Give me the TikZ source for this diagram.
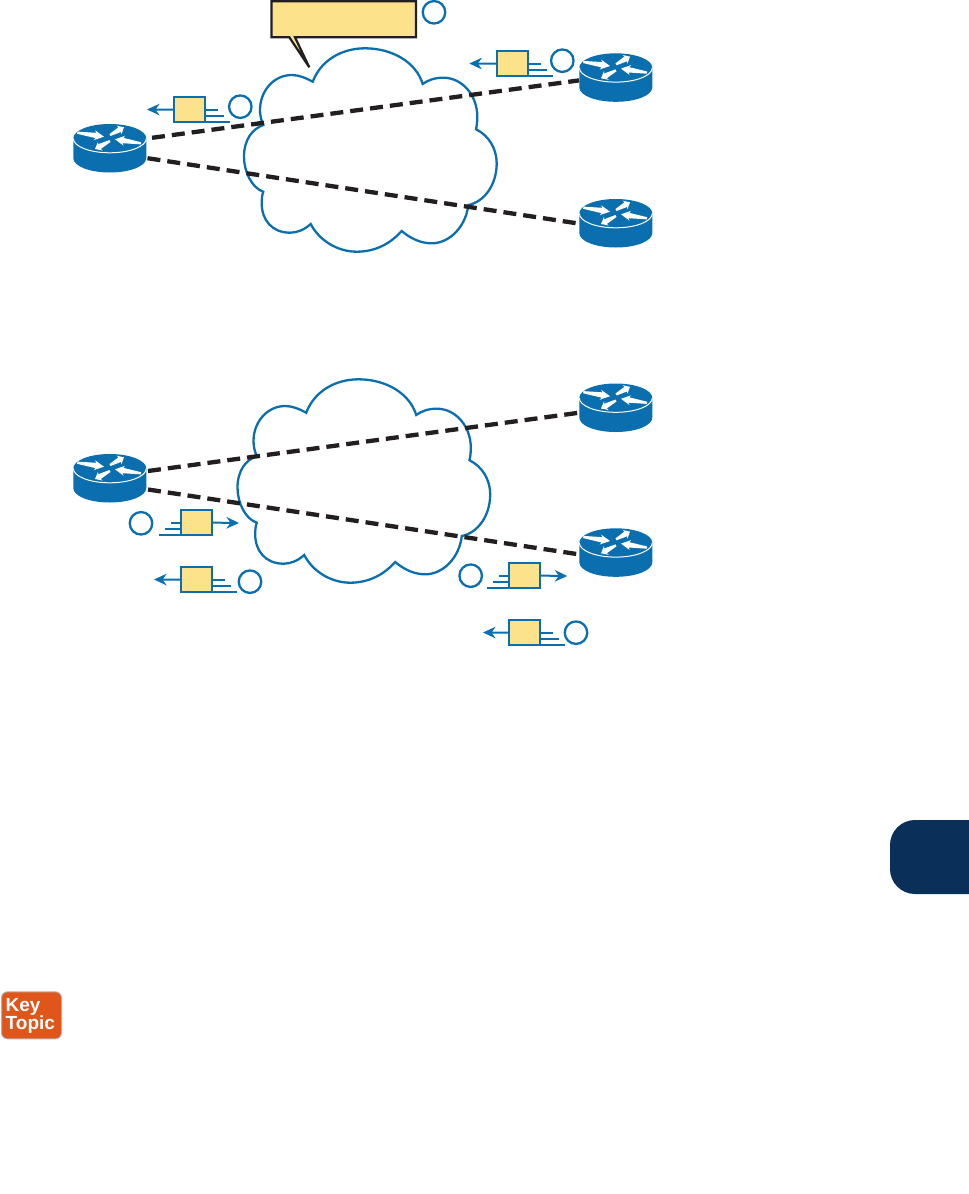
\documentclass[tikz,border=0pt]{standalone}
\usepackage{fontspec}
\setsansfont{Liberation Sans}
\usetikzlibrary{arrows.meta,calc}
\definecolor{netblue}{HTML}{0B6EAE}
\definecolor{padyellow}{HTML}{FDE28C}
\definecolor{inkdark}{HTML}{231F20}
\definecolor{tabnavy}{HTML}{0A2F58}
\definecolor{keyorange}{HTML}{E0551A}
\tikzset{
  x=1pt,y=-1pt,
  cloudline/.style={draw=netblue,line width=2.3pt,line join=miter},
  tunnel/.style={draw=inkdark,line width=4.3pt,dash pattern=on 13pt off 7pt},
  packet/.style={draw=netblue,fill=padyellow,line width=2.3pt,minimum width=31pt,minimum height=25pt,inner sep=0pt,outer sep=0pt},
  badge/.style={circle,draw=netblue,line width=2.3pt,minimum size=22.5pt,inner sep=0pt,outer sep=0pt},
  flow/.style={draw=netblue,line width=2pt,-{Stealth[length=12.5pt,width=11.5pt,inset=4pt]}},
  speed/.style={draw=netblue,line width=2pt},
  anchorpt/.style={inner sep=0pt,outer sep=0pt,minimum size=0pt},
}
% tapered white arrow inside a router
\newcommand\tapered[2]{%
  \fill[white] ($(#1)!.0!(#2)!1.1pt!90:(#2)$)
   -- ($(#1)!.7!(#2)!2.7pt!90:(#2)$)
   -- ($(#1)!.64!(#2)!5pt!90:(#2)$)
   -- (#2)
   -- ($(#1)!.64!(#2)!5pt!-90:(#2)$)
   -- ($(#1)!.7!(#2)!2.7pt!-90:(#2)$)
   -- ($(#1)!.0!(#2)!1.1pt!-90:(#2)$) -- cycle;}
% router: name, left x, top y
\newcommand\router[3]{%
  \node[anchorpt,minimum width=73pt,minimum height=48.5pt] (#1) at (#2+36.5,#3+24.25) {};
  \begin{scope}[shift={(#2,#3)}]
    \fill[netblue] (0,14.4) .. controls (0,6.4) and (16.3,0) .. (36.5,0)
       .. controls (56.7,0) and (73,6.4) .. (73,14.4)
       -- (73,34) .. controls (73,42.2) and (56.7,48.5) .. (36.5,48.5)
       .. controls (16.3,48.5) and (0,42.2) .. (0,34) -- cycle;
    \draw[white,line width=1pt] (0,14.4) .. controls (0,22.4) and (16.3,28.8) .. (36.5,28.8)
       .. controls (56.7,28.8) and (73,22.4) .. (73,14.4);
    \tapered{4,8.7}{30.7,12.7}
    \tapered{36.7,11}{50.7,3.3}
    \tapered{67.7,19.3}{41.7,15.3}
    \tapered{36.7,17}{21.7,25}
  \end{scope}}
% cloud outline, shifted
\newcommand\netcloud[2]{%
  \draw[cloudline,shift={(#1,#2)}] (263.3,125)
   .. controls (261,120) and (260,115) .. (260,110)
   .. controls (260,90.7) and (274,75) .. (291.7,75)
   .. controls (299,75) and (306,78) .. (312.7,81.7)
   .. controls (321,60) and (342,48.3) .. (365,48.3)
   .. controls (392,48.3) and (416,62) .. (422.7,84)
   .. controls (428,80) and (435,77.7) .. (443.3,77.7)
   .. controls (462,77.7) and (477.3,95) .. (477.3,116.7)
   .. controls (477.3,121) and (477,125) .. (476,129.3)
   .. controls (488,135) and (496.7,148) .. (496.7,163.3)
   .. controls (496.7,185) and (484,202) .. (468.3,205)
   .. controls (466,226) and (450,243.3) .. (431.7,243.3)
   .. controls (420,243.3) and (410,238) .. (401.7,231)
   .. controls (390,244) and (375,251.7) .. (356.7,251.7)
   .. controls (337,251.7) and (319,240) .. (310.7,224)
   .. controls (304,230) and (297,232.7) .. (290,232.7)
   .. controls (272,232.7) and (261.7,220) .. (261.7,203.3)
   .. controls (261.7,199) and (262,195) .. (263.3,191.7)
   .. controls (252,188) and (244,172) .. (244,156.7)
   .. controls (244,140) and (252,129) .. (263.3,125) -- cycle;}
% packet pointing left: name, box left x, box top y, arrow tip x
\newcommand\packetleft[4]{%
  \node[packet,anchor=north west] (#1) at (#2+1.1,#3+1.1) {};
  \coordinate (#1tip) at (#4,#3+13.5);
  \draw[flow] (#1.west) -- (#1tip);
  \draw[speed] (#2+33,#3+13.7) -- (#2+45,#3+13.7);
  \draw[speed] (#2+33,#3+19.8) -- (#2+51,#3+19.8);
  \draw[speed] (#2+33,#3+25.8) -- (#2+57,#3+25.8);}
% packet pointing right
\newcommand\packetright[4]{%
  \node[packet,anchor=north west] (#1) at (#2+1.1,#3+1.1) {};
  \coordinate (#1tip) at (#4,#3+14);
  \draw[flow] (#1.east) -- (#1tip);
  \draw[speed] (#2,#3+13.7) -- (#2-9,#3+13.7);
  \draw[speed] (#2,#3+19.8) -- (#2-15,#3+19.8);
  \draw[speed] (#2,#3+25.8) -- (#2-21,#3+25.8);}
\begin{document}
\begin{tikzpicture}
\useasboundingbox (0,0) rectangle (969,1194);
% clouds
\netcloud{0}{0}
\netcloud{-6.5}{331}
% routers
\router{ra}{73.3}{124}
\router{rb}{579.3}{53.3}
\router{rc}{579.3}{199}
\router{rd}{73.3}{454}
\router{re}{579.3}{383.5}
\router{rf}{579.3}{528.3}
% connector ends
\coordinate (ea) at (152,137.8);
\coordinate (eb) at (579,80.4);
\coordinate (ec) at (147.5,158.2);
\coordinate (ed) at (579,223.6);
\coordinate (ee) at (148,471);
\coordinate (ef) at (580,412.6);
\coordinate (eg) at (148,489.5);
\coordinate (eh) at (580,554.5);
\draw[tunnel] (ea) -- (eb);
\draw[tunnel] (ec) -- (ed);
\draw[tunnel] (ee) -- (ef);
\draw[tunnel] (eg) -- (eh);
% callout
\draw[draw=inkdark,fill=padyellow,line width=2.2pt,line join=miter] (271.5,1.2) -- (416,1.2) -- (416,37.3) -- (295,37.3) -- (309.3,67.3) -- (289.3,37.3) -- (271.5,37.3) -- cycle;
\node[badge] (n0) at (434,12.3) {};
% packets
\packetleft{pa}{173}{96}{147}
\node[badge] (n1) at (240.3,106.7) {};
\packetleft{pb}{496}{50}{469.3}
\node[badge] (n2) at (562.3,60.7) {};
\packetright{pc}{180}{509}{239}
\node[badge] (n3) at (141,523.3) {};
\packetleft{pd}{180}{566}{154}
\node[badge] (n4) at (250,581.7) {};
\packetright{pe}{508}{562}{567.3}
\node[badge] (n5) at (470.7,575.7) {};
\packetleft{pf}{508}{619}{483}
\node[badge] (n6) at (576,632.7) {};
% chapter tab
\fill[tabnavy] (969,820) [rounded corners=25pt] -- (890,820) -- (890,894) [sharp corners] -- (969,894) -- cycle;
% key topic
\node[draw=black!30,fill=keyorange,line width=1pt,rounded corners=6pt,minimum width=60pt,minimum height=47pt,inner sep=0pt] (kt) at (31.5,1015.3) {};
\node[anchor=base west,inner sep=0pt,text=white,font=\sffamily\bfseries\fontsize{19}{19}\selectfont] (k1) at (5.5,1011.7) {Key};
\node[anchor=base west,inner sep=0pt,text=white,font=\sffamily\bfseries\fontsize{19}{19}\selectfont] (k2) at (5.5,1029.3) {Topic};
\end{tikzpicture}
\end{document}
